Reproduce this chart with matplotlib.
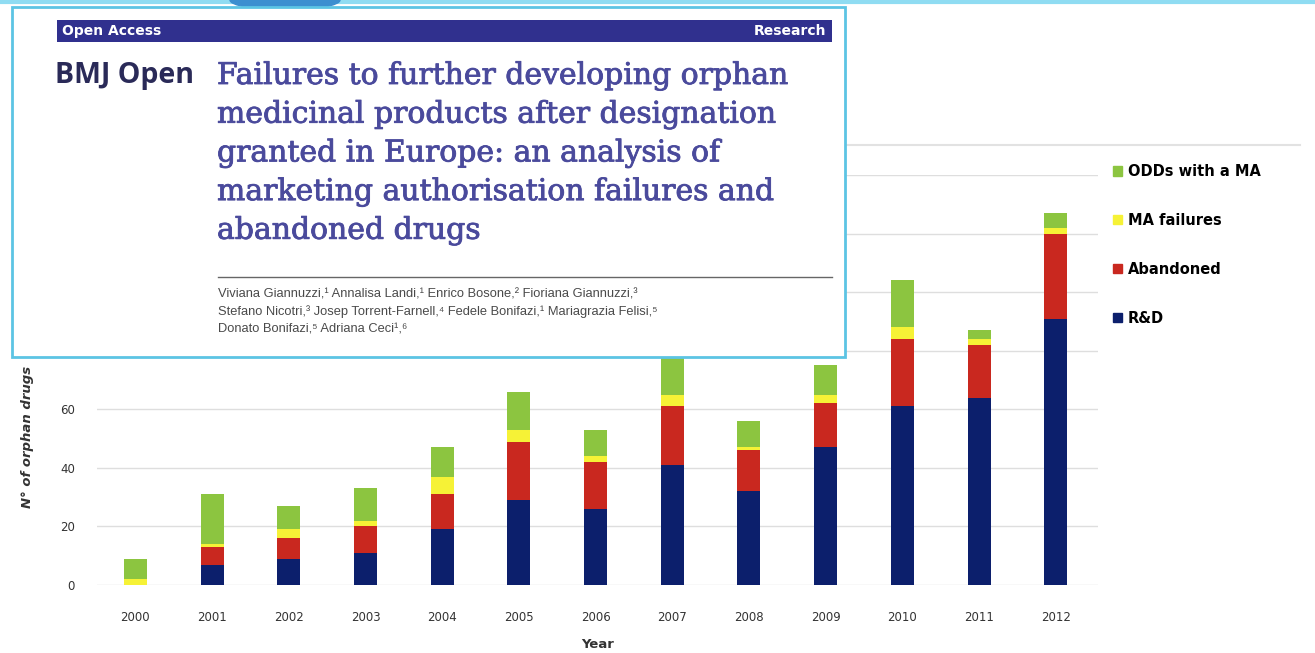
import matplotlib
matplotlib.use("Agg")
import matplotlib.pyplot as plt
import matplotlib.patheffects as pe
import numpy as np
from matplotlib.patches import Rectangle, Ellipse, Patch
from matplotlib.lines import Line2D

years = ["2000", "2001", "2002", "2003", "2004", "2005", "2006",
         "2007", "2008", "2009", "2010", "2011", "2012"]
rnd = np.array([0, 7, 9, 11, 19, 29, 26, 41, 32, 47, 61, 64, 91])
abandoned = np.array([0, 6, 7, 9, 12, 20, 16, 20, 14, 15, 23, 18, 29])
ma_failures = np.array([2, 1, 3, 2, 6, 4, 2, 4, 1, 3, 4, 2, 2])
odds_ma = np.array([7, 17, 8, 11, 10, 13, 9, 15, 9, 10, 16, 3, 5])

W, H = 1315, 653
fig = plt.figure(figsize=(W / 100, H / 100), dpi=100)
fig.patch.set_facecolor("white")


def fx(px):
    return px / W


def fy(py):
    return 1 - py / H


# chart
ax = fig.add_axes([fx(97), fy(585), fx(1098) - fx(97), fy(175) - fy(585)])
x = np.arange(len(years))
bw = 0.3
c_rnd, c_ab, c_maf, c_odd = "#0c1f6c", "#c9281f", "#f6f236", "#8cc540"
ax.bar(x, rnd, bw, color=c_rnd, zorder=3)
ax.bar(x, abandoned, bw, bottom=rnd, color=c_ab, zorder=3)
ax.bar(x, ma_failures, bw, bottom=rnd + abandoned, color=c_maf, zorder=3)
ax.bar(x, odds_ma, bw, bottom=rnd + abandoned + ma_failures, color=c_odd, zorder=3)

ax.set_xlim(-0.5, 12.55)
ax.set_ylim(0, 140)
ax.set_yticks(np.arange(0, 141, 20))
ax.set_xticks(x)
ax.set_xticklabels(years)
ax.yaxis.grid(True, color="#dedede", lw=1)
ax.set_axisbelow(True)
for s in ax.spines.values():
    s.set_visible(False)
ax.tick_params(axis="y", length=0, pad=16, labelsize=8.5, labelcolor="#333333")
ax.tick_params(axis="x", length=0, pad=19, labelsize=8.5, labelcolor="#333333")
ax.set_xlabel("Year", fontsize=9.5, fontweight="bold", color="#333333", labelpad=10)
fig.text(fx(28), fy(508), "N° of orphan drugs", rotation=90, ha="center", va="bottom",
         fontsize=9.5, fontweight="bold", fontstyle="italic", color="#333333")

handles = [Patch(color=c_odd), Patch(color=c_maf), Patch(color=c_ab), Patch(color=c_rnd)]
labels = ["ODDs with a MA", "MA failures", "Abandoned", "R&D"]
fig.legend(handles, labels, loc="upper left", bbox_to_anchor=(fx(1100), fy(151)),
           frameon=False, handlelength=0.6, handleheight=0.6, handletextpad=0.4,
           labelspacing=2.32, prop={"size": 10.5, "weight": "bold"})

# slide decoration
fig.add_artist(Line2D([0, 1], [fy(1.5), fy(1.5)], color="#8fdcf2", lw=3, zorder=1))
fig.add_artist(Line2D([fx(845), fx(1300)], [fy(145), fy(145)], color="#e2e2e2", lw=1.5, zorder=1))
fig.add_artist(Ellipse((fx(285), fy(0)), fx(110), 20 / H, color="#3c8fd0", zorder=2))

# article header overlay
fig.add_artist(Rectangle((fx(12), fy(357)), fx(845) - fx(12), fy(7) - fy(357),
                         facecolor="white", edgecolor="#5cc4e4", lw=2, zorder=5))
fig.add_artist(Rectangle((fx(57), fy(42)), fx(832) - fx(57), fy(20) - fy(42),
                         facecolor="#30308e", edgecolor="none", zorder=6))
fig.text(fx(62), fy(31), "Open Access", color="white", fontsize=10, fontweight="bold",
         ha="left", va="center", zorder=7)
fig.text(fx(826), fy(31), "Research", color="white", fontsize=10, fontweight="bold",
         ha="right", va="center", zorder=7)
fig.text(fx(55), fy(76), "BMJ Open", color="#2a2a58", fontsize=20.5, fontweight="bold",
         family="Open Sans", ha="left", va="center", zorder=7)
title_lines = ["Failures to further developing orphan",
               "medicinal products after designation",
               "granted in Europe: an analysis of",
               "marketing authorisation failures and",
               "abandoned drugs"]
for i, line in enumerate(title_lines):
    fig.text(fx(217), fy(76 + i * 38.7), line, color="#4a4a9c", fontsize=21.5,
             family="DejaVu Serif", ha="left", va="center", zorder=7,
             path_effects=[pe.withStroke(linewidth=0.6, foreground="#4a4a9c")])
fig.add_artist(Line2D([fx(218), fx(832)], [fy(277), fy(277)], color="#666666", lw=1, zorder=7))
author_lines = ["Viviana Giannuzzi,¹ Annalisa Landi,¹ Enrico Bosone,² Fioriana Giannuzzi,³",
                "Stefano Nicotri,³ Josep Torrent-Farnell,⁴ Fedele Bonifazi,¹ Mariagrazia Felisi,⁵",
                "Donato Bonifazi,⁵ Adriana Ceci¹,⁶"]
for i, line in enumerate(author_lines):
    fig.text(fx(218), fy(295 + i * 17), line, color="#4a4a4a", fontsize=9.3,
             family=["Liberation Sans", "DejaVu Sans"], ha="left", va="center", zorder=7)

fig.savefig("out.png", dpi=100)
